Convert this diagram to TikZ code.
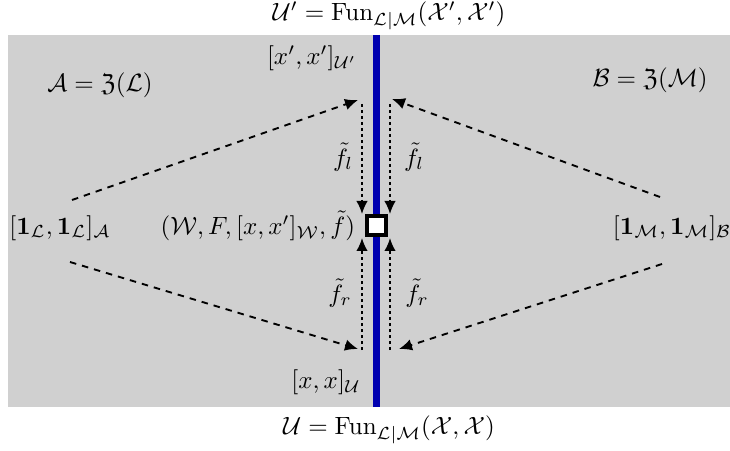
\documentclass[tikz,border=0pt]{standalone}
\usepackage{amsmath,amssymb}
\usetikzlibrary{arrows.meta}
\definecolor{bggray}{RGB}{208,208,208}
\definecolor{wallblue}{RGB}{0,0,176}
\begin{document}
\begin{tikzpicture}[x=0.4pt,y=-0.4pt,
  lbl/.style={inner sep=1pt},
  dasharrow/.style={line width=0.75pt, dash pattern=on 2.6pt off 2.4pt, -{Latex[length=5.2pt,width=4.6pt]}},
  dotarrow/.style={line width=0.75pt, dash pattern=on 1.3pt off 1.1pt, -{Latex[length=5.2pt,width=4.6pt]}},
  sq/.style={draw=black, fill=white, line width=1.6pt, minimum size=7.6pt, inner sep=0pt}]
\useasboundingbox (0,0) rectangle (730,451);
\fill[bggray] (8,35) rectangle (730,407);
\coordinate (wt) at (376,35);
\coordinate (wb) at (376,407);
\draw[wallblue, line width=2.8pt] (wt) -- (wb);
\node[sq] (w) at (376,226) {};
% labels
\node[lbl] (Up) at (389,16) {$\mathcal{U}'=\mathrm{Fun}_{\mathcal{L}|\mathcal{M}}(\mathcal{X}',\mathcal{X}')$};
\node[lbl] (U) at (389,430) {$\mathcal{U}=\mathrm{Fun}_{\mathcal{L}|\mathcal{M}}(\mathcal{X},\mathcal{X})$};
\node[lbl] (A) at (100,85) {$\mathcal{A}=\mathfrak{Z}(\mathcal{L})$};
\node[lbl] (B) at (650,80) {$\mathcal{B}=\mathfrak{Z}(\mathcal{M})$};
\node[lbl] (xpu) at (312,58) {$[x',x']_{\mathcal{U}'}$};
\node[lbl] (xu) at (326,382) {$[x,x]_{\mathcal{U}}$};
\node[lbl,anchor=east] (W) at (358,226) {$(\mathcal{W},F,[x,x']_{\mathcal{W}},\tilde{f})$};
\node[lbl] (one) at (60,228) {$[\mathbf{1}_{\mathcal{L}},\mathbf{1}_{\mathcal{L}}]_{\mathcal{A}}$};
\node[lbl] (onm) at (672,228) {$[\mathbf{1}_{\mathcal{M}},\mathbf{1}_{\mathcal{M}}]_{\mathcal{B}}$};
\node[lbl] (fl1) at (343,157) {$\tilde{f}_l$};
\node[lbl] (fl2) at (414,157) {$\tilde{f}_l$};
\node[lbl] (fr1) at (340,293) {$\tilde{f}_r$};
\node[lbl] (fr2) at (417,293) {$\tilde{f}_r$};
% arrow end points
\coordinate (a1) at (72,200);
\coordinate (a2) at (358,100);
\coordinate (b1) at (660,197);
\coordinate (b2) at (392,99);
\coordinate (c1) at (70,262);
\coordinate (c2) at (358,349);
\coordinate (d1) at (662,264);
\coordinate (d2) at (399,349);
\coordinate (t1) at (362,104);
\coordinate (t2) at (362,214);
\coordinate (t3) at (390,104);
\coordinate (t4) at (390,214);
\coordinate (s1) at (362,350);
\coordinate (s2) at (362,238);
\coordinate (s3) at (390,350);
\coordinate (s4) at (390,238);
\draw[dasharrow] (a1) -- (a2);
\draw[dasharrow] (b1) -- (b2);
\draw[dasharrow] (c1) -- (c2);
\draw[dasharrow] (d1) -- (d2);
\draw[dotarrow] (t1) -- (t2);
\draw[dotarrow] (t3) -- (t4);
\draw[dotarrow] (s1) -- (s2);
\draw[dotarrow] (s3) -- (s4);
\end{tikzpicture}
\end{document}
